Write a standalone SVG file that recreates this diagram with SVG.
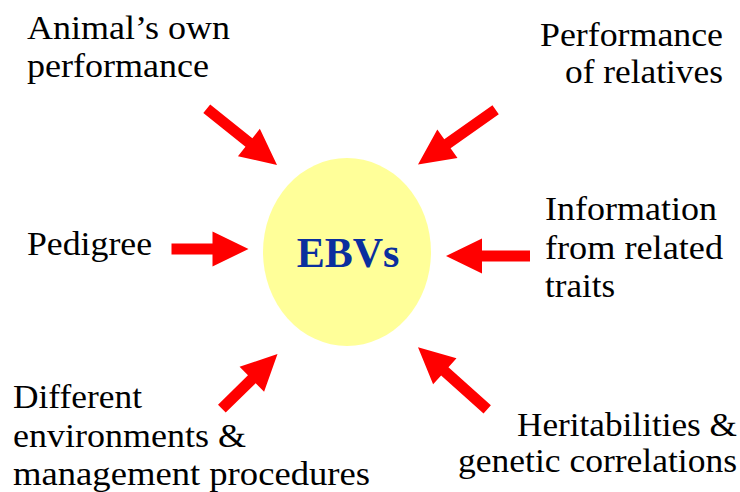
<svg xmlns="http://www.w3.org/2000/svg" width="740" height="492" viewBox="0 0 740 492">
<style>
.lbl{font-family:"Liberation Serif","Times New Roman",serif;font-size:33px;fill:#000}
.end{text-anchor:end}
.ebv{font-family:"Liberation Serif","Times New Roman",serif;font-size:42px;font-weight:bold;fill:#0a2f9e;text-anchor:middle}
.arr{fill:#ff0000}
</style>
<rect width="740" height="492" fill="#ffffff"/>
<g id="ebvs">
<ellipse cx="347" cy="252" rx="84" ry="94" fill="#ffff99"/>
<text class="ebv" x="348" y="267">EBVs</text>
</g>
<g id="animal-own">
<text class="lbl" x="27" y="39" textLength="203" lengthAdjust="spacingAndGlyphs">Animal’s own</text>
<text class="lbl" x="27" y="77" textLength="182" lengthAdjust="spacingAndGlyphs">performance</text>
</g>
<g id="relatives">
<text class="lbl end" x="723" y="46" textLength="183" lengthAdjust="spacingAndGlyphs">Performance</text>
<text class="lbl end" x="723" y="83" textLength="158" lengthAdjust="spacingAndGlyphs">of relatives</text>
</g>
<g id="pedigree">
<text class="lbl" x="27" y="255" textLength="125" lengthAdjust="spacingAndGlyphs">Pedigree</text>
</g>
<g id="related-traits">
<text class="lbl" x="545" y="220" textLength="172" lengthAdjust="spacingAndGlyphs">Information</text>
<text class="lbl" x="545" y="259" textLength="178" lengthAdjust="spacingAndGlyphs">from related</text>
<text class="lbl" x="545" y="297" textLength="70" lengthAdjust="spacingAndGlyphs">traits</text>
</g>
<g id="environments">
<text class="lbl" x="13" y="408" textLength="129" lengthAdjust="spacingAndGlyphs">Different</text>
<text class="lbl" x="13" y="447" textLength="233" lengthAdjust="spacingAndGlyphs">environments &amp;</text>
<text class="lbl" x="13" y="485" textLength="357" lengthAdjust="spacingAndGlyphs">management procedures</text>
</g>
<g id="heritabilities">
<text class="lbl end" x="737" y="436" textLength="220" lengthAdjust="spacingAndGlyphs">Heritabilities &amp;</text>
<text class="lbl end" x="737" y="472" textLength="279" lengthAdjust="spacingAndGlyphs">genetic correlations</text>
</g>
<g id="connectors">
<polygon class="arr" points="0,0 -36,-17.5 -36,-5.5 -90,-5.5 -90,5.5 -36,5.5 -36,17.5" transform="translate(277,165) rotate(38.7)"/>
<polygon class="arr" points="0,0 -36,-17.5 -36,-5.5 -95,-5.5 -95,5.5 -36,5.5 -36,17.5" transform="translate(418,164.5) rotate(144.8)"/>
<polygon class="arr" points="0,0 -36,-17.5 -36,-5.5 -77,-5.5 -77,5.5 -36,5.5 -36,17.5" transform="translate(248.5,249) rotate(0)"/>
<polygon class="arr" points="0,0 -36,-17.5 -36,-5.5 -84,-5.5 -84,5.5 -36,5.5 -36,17.5" transform="translate(446,256) rotate(180)"/>
<polygon class="arr" points="0,0 -36,-17.5 -36,-5.5 -78,-5.5 -78,5.5 -36,5.5 -36,17.5" transform="translate(277.5,354) rotate(-44.5)"/>
<polygon class="arr" points="0,0 -36,-17.5 -36,-5.5 -93,-5.5 -93,5.5 -36,5.5 -36,17.5" transform="translate(418,347.3) rotate(-138.1)"/>
</g>
</svg>
